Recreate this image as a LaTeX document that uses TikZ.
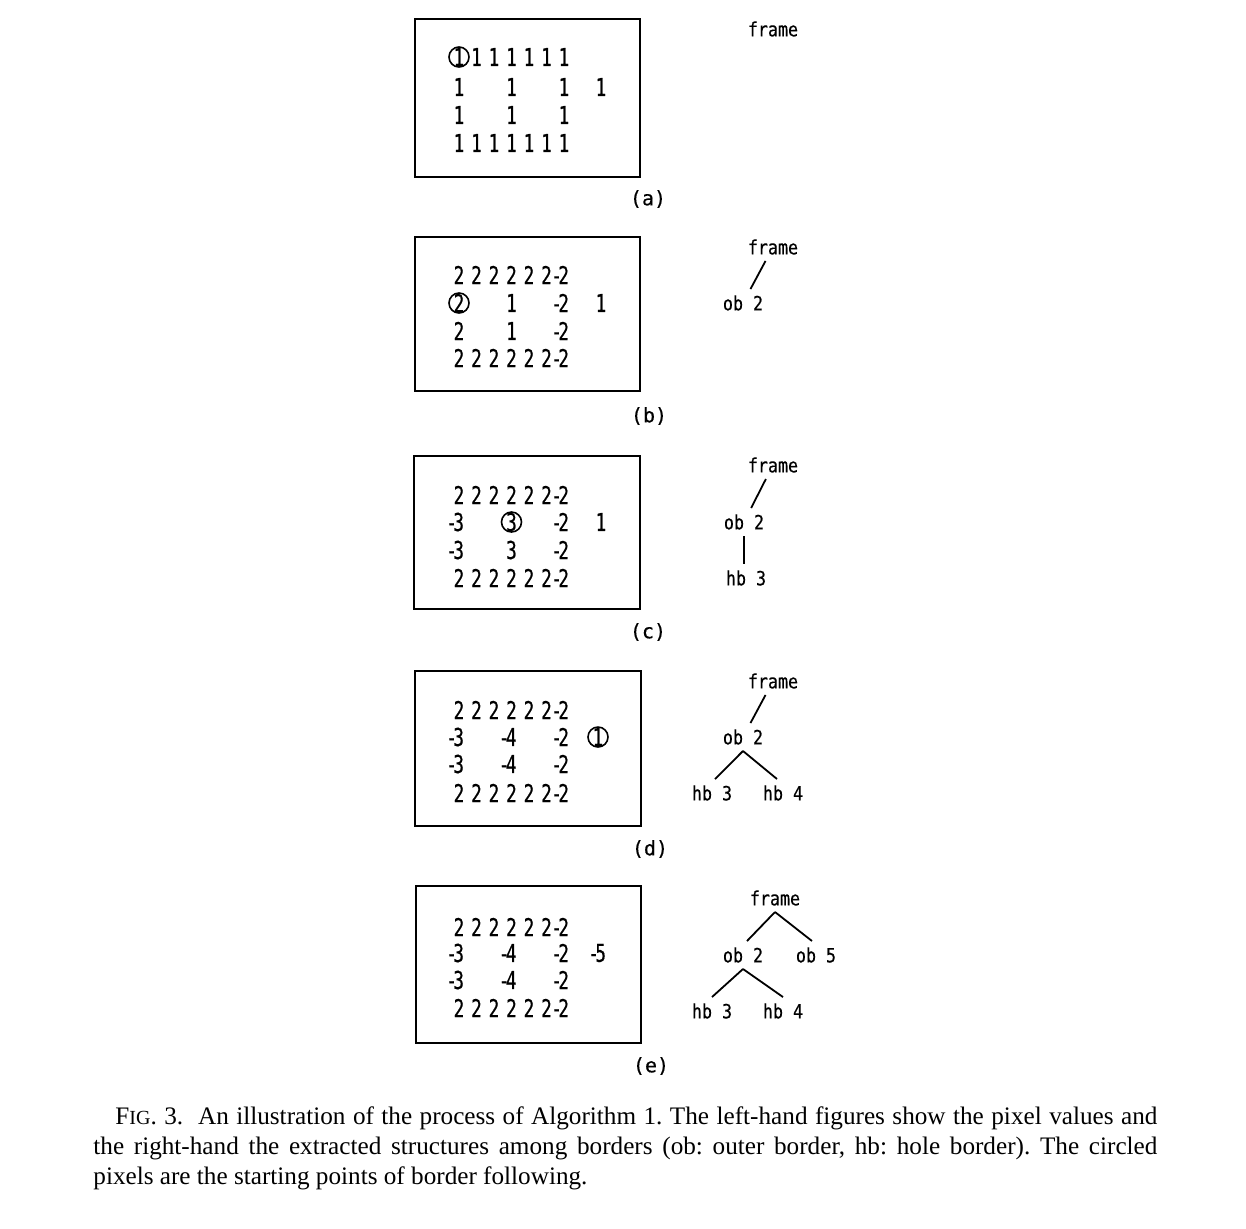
\documentclass[tikz,border=0pt]{standalone}
\usepackage{fontspec}
\setmainfont{Liberation Serif}
\newfontfamily\dgfont[FakeStretch=0.72,FakeBold=0.6]{DejaVu Sans Mono}
\newfontfamily\trfont[FakeStretch=0.85,FakeBold=0.4]{DejaVu Sans Mono}
\newfontfamily\lbfont[FakeBold=0.3]{DejaVu Sans Mono}
\begin{document}
\begin{tikzpicture}[x=0.5pt,y=-0.5pt,
  num/.style={inner sep=0pt,font=\dgfont\fontsize{12.3}{14}\selectfont},
  neg/.style={num,anchor=east,xshift=2.7pt},
  tree/.style={inner xsep=1pt,inner ysep=3pt,font=\trfont\fontsize{9.8}{11}\selectfont},
  panel/.style={draw,line width=1pt},
  plabel/.style={inner sep=0pt,font=\lbfont\fontsize{10}{12}\selectfont},
  link/.style={line width=0.9pt},
  ring/.style={line width=0.8pt}]
\useasboundingbox (0,0) rectangle (1246,1228);
\def\ca{459}\def\cb{476.5}\def\cc{494}\def\cd{511.5}\def\ce{529}\def\cf{546.5}\def\cg{564}\def\ch{601}
\def\m#1{-\kern-1.8pt#1}

% ---------------- (a)
\draw[panel] (415,19) rectangle (640,177);
\node[plabel] (la) at (648,199) {(a)};
\node[num] (a11) at (\ca,57) {1};
\draw[ring] (a11) circle[radius=5pt];
\foreach \x [count=\k] in {\cb,\cc,\cd,\ce,\cf,\cg} \node[num] (a1\k) at (\x,57) {1};
\foreach \x [count=\k] in {\ca,\cd,\cg,\ch} \node[num] (a2\k) at (\x,87) {1};
\foreach \x [count=\k] in {\ca,\cd,\cg} \node[num] (a3\k) at (\x,115) {1};
\foreach \x [count=\k] in {\ca,\cb,\cc,\cd,\ce,\cf,\cg} \node[num] (a4\k) at (\x,143) {1};
\node[tree] (fa) at (773,29) {frame};

% ---------------- (b)
\draw[panel] (415,237) rectangle (640,391);
\node[plabel] (lb) at (649,416) {(b)};
\foreach \x [count=\k] in {\ca,\cb,\cc,\cd,\ce,\cf} \node[num] (b1\k) at (\x,275) {2};
\node[neg] (b17) at (\cg,275) {\m2};
\node[num] (b21) at (\ca,303) {2};
\draw[ring] (b21) circle[radius=5pt];
\node[num] (b22) at (\cd,303) {1};
\node[neg] (b23) at (\cg,303) {\m2};
\node[num] (b24) at (\ch,303) {1};
\node[num] (b31) at (\ca,331) {2};
\node[num] (b32) at (\cd,331) {1};
\node[neg] (b33) at (\cg,331) {\m2};
\foreach \x [count=\k] in {\ca,\cb,\cc,\cd,\ce,\cf} \node[num] (b4\k) at (\x,358) {2};
\node[neg] (b47) at (\cg,358) {\m2};
\node[tree] (fb) at (773,247) {frame};
\node[tree] (ob) at (743,303) {ob 2};
\draw[link] (fb) -- (ob);

% ---------------- (c)
\draw[panel] (414,456) rectangle (640,609);
\node[plabel] (lc) at (648,632) {(c)};
\foreach \x [count=\k] in {\ca,\cb,\cc,\cd,\ce,\cf} \node[num] (c1\k) at (\x,495) {2};
\node[neg] (c17) at (\cg,495) {\m2};
\node[neg] (c21) at (\ca,522) {\m3};
\node[num] (c22) at (\cd,522) {3};
\draw[ring] (c22) circle[radius=5pt];
\node[neg] (c23) at (\cg,522) {\m2};
\node[num] (c24) at (\ch,522) {1};
\node[neg] (c31) at (\ca,550) {\m3};
\node[num] (c32) at (\cd,550) {3};
\node[neg] (c33) at (\cg,550) {\m2};
\foreach \x [count=\k] in {\ca,\cb,\cc,\cd,\ce,\cf} \node[num] (c4\k) at (\x,578) {2};
\node[neg] (c47) at (\cg,578) {\m2};
\node[tree] (fc) at (773,465) {frame};
\node[tree] (oc) at (744,522) {ob 2};
\node[tree] (hc) at (746,578) {hb 3};
\draw[link] (fc) -- (oc);
\draw[link] (oc.south) -- (oc.south |- hc.north);

% ---------------- (d)
\draw[panel] (415,671) rectangle (641,826);
\node[plabel] (ld) at (650,849) {(d)};
\foreach \x [count=\k] in {\ca,\cb,\cc,\cd,\ce,\cf} \node[num] (d1\k) at (\x,710) {2};
\node[neg] (d17) at (\cg,710) {\m2};
\node[neg] (d21) at (\ca,737) {\m3};
\node[neg] (d22) at (\cd,737) {\m4};
\node[neg] (d23) at (\cg,737) {\m2};
\node[num] (d24) at (598,737) {1};
\draw[ring] (d24) circle[radius=5pt];
\node[neg] (d31) at (\ca,764) {\m3};
\node[neg] (d32) at (\cd,764) {\m4};
\node[neg] (d33) at (\cg,764) {\m2};
\foreach \x [count=\k] in {\ca,\cb,\cc,\cd,\ce,\cf} \node[num] (d4\k) at (\x,793) {2};
\node[neg] (d47) at (\cg,793) {\m2};
\node[tree] (fd) at (773,681) {frame};
\node[tree] (od) at (743,737) {ob 2};
\node[tree] (hd3) at (712,793) {hb 3};
\node[tree] (hd4) at (783,793) {hb 4};
\draw[link] (fd) -- (od);
\draw[link] (od.south) -- ([xshift=1.5pt]hd3.north);
\draw[link] (od.south) -- ([xshift=-3pt]hd4.north);

% ---------------- (e)
\draw[panel] (416,886) rectangle (641,1043);
\node[plabel] (le) at (651,1066) {(e)};
\foreach \x [count=\k] in {\ca,\cb,\cc,\cd,\ce,\cf} \node[num] (e1\k) at (\x,927) {2};
\node[neg] (e17) at (\cg,927) {\m2};
\node[neg] (e21) at (\ca,953) {\m3};
\node[neg] (e22) at (\cd,953) {\m4};
\node[neg] (e23) at (\cg,953) {\m2};
\node[neg] (e24) at (\ch,953) {\m5};
\node[neg] (e31) at (\ca,980) {\m3};
\node[neg] (e32) at (\cd,980) {\m4};
\node[neg] (e33) at (\cg,980) {\m2};
\foreach \x [count=\k] in {\ca,\cb,\cc,\cd,\ce,\cf} \node[num] (e4\k) at (\x,1008) {2};
\node[neg] (e47) at (\cg,1008) {\m2};
\node[tree] (fe) at (775,898) {frame};
\node[tree] (oe2) at (743,955) {ob 2};
\node[tree] (oe5) at (816,955) {ob 5};
\node[tree] (he3) at (712,1011) {hb 3};
\node[tree] (he4) at (783,1011) {hb 4};
\draw[link] (fe.south) -- ([xshift=2pt]oe2.north);
\draw[link] (fe.south) -- ([xshift=-2pt]oe5.north);
\draw[link] (oe2.south) -- (he3.north);
\draw[link] (oe2.south) -- (he4.north);

% ---------------- caption
\node[anchor=base west,text width=532pt,align=justify,inner sep=0pt,
  font=\fontsize{12.6}{15}\selectfont\frenchspacing] (cap) at (93,1124)
  {\hspace*{11pt}F{\fontsize{10}{15}\selectfont IG}. 3.\ \ An illustration of the process of Algorithm 1. The left-hand figures show the pixel values and\linebreak
   the right-hand the extracted structures among borders (ob: outer border, hb: hole border). The circled\linebreak
   pixels are the starting points of border following.};
\end{tikzpicture}
\end{document}
